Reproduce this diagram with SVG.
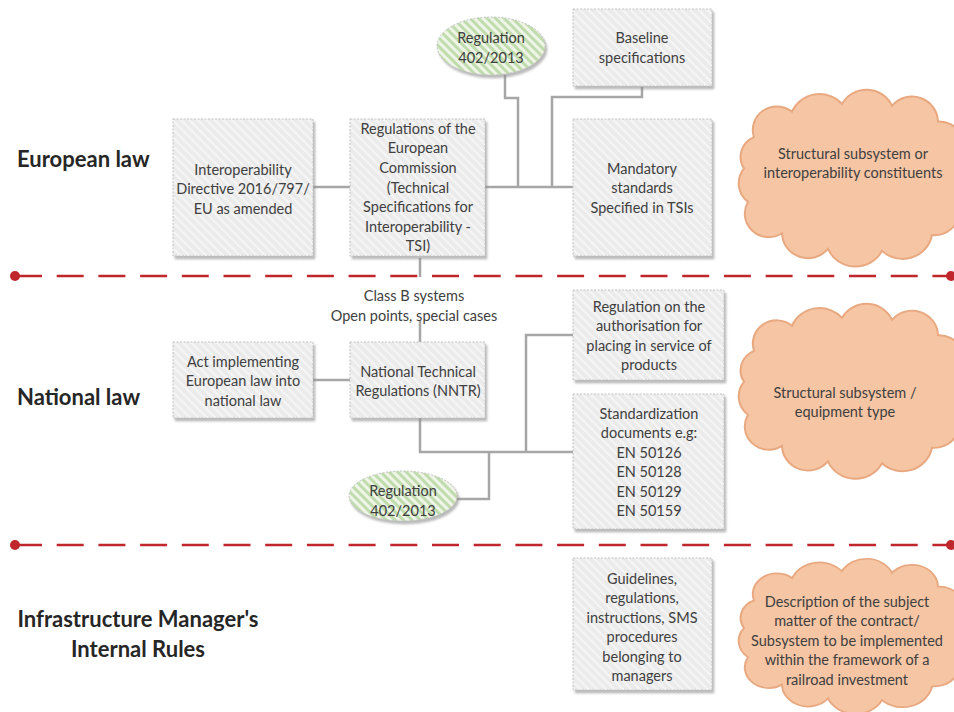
<svg xmlns="http://www.w3.org/2000/svg" width="954" height="712" viewBox="0 0 954 712">
<defs>
<pattern id="hg" width="6" height="6" patternUnits="userSpaceOnUse" patternTransform="rotate(-45)"><rect width="6" height="6" fill="#ebebeb"/><rect width="2" height="6" fill="#f5f5f5"/></pattern>
<pattern id="gg" width="6" height="6" patternUnits="userSpaceOnUse" patternTransform="rotate(-45)"><rect width="6" height="6" fill="#eef5e8"/><rect width="3" height="6" fill="#c0dcac"/></pattern>
<filter id="sh" x="-10%" y="-10%" width="130%" height="130%"><feDropShadow dx="2" dy="3" stdDeviation="1" flood-color="#8c8c8c" flood-opacity="0.6"/></filter>
<filter id="cs" x="-5%" y="-5%" width="110%" height="110%"><feGaussianBlur stdDeviation="0.6"/></filter>
<path id="cloud" d="M12,40 A24,24 0 0 1 50,14 A30,30 0 0 1 100,6 A28,28 0 0 1 150,8 A26,26 0 0 1 196,24 A24,24 0 0 1 218,60 A24,24 0 0 1 216,104 A26,26 0 0 1 190,140 A30,30 0 0 1 140,156 A30,30 0 0 1 86,154 A26,26 0 0 1 40,138 A24,24 0 0 1 6,106 A24,24 0 0 1 2,72 A22,22 0 0 1 12,40 Z"/>
</defs>
<style>
.box{fill:url(#hg);stroke:#c2c2c2;stroke-width:1;stroke-dasharray:2 1.5;filter:url(#sh)}
.ell{fill:url(#gg);stroke:#c2c2c2;stroke-width:1;stroke-dasharray:2 1.5;filter:url(#sh)}
.cl{fill:#f6c5a4;stroke:#e8a880;stroke-width:2;filter:url(#cs)}
.t{font-family:Lato,"Open Sans","Liberation Sans",sans-serif;font-size:14.5px;fill:#404040;text-anchor:middle}
.h{font-family:Lato,"Open Sans","Liberation Sans",sans-serif;font-size:22px;font-weight:bold;fill:#262626}
.c{fill:none;stroke:#a6a6a6;stroke-width:2.5}
.rl{stroke:#c0272d;stroke-width:2.5;stroke-dasharray:27 14.7}
.rd{fill:#c0272d}
</style>
<rect width="954" height="712" fill="#ffffff"/>

<g id="separators">
<line class="rl" x1="15" y1="276" x2="952" y2="276"/>
<circle class="rd" cx="15" cy="276" r="5"/><circle class="rd" cx="951" cy="276" r="5"/>
<line class="rl" x1="15" y1="545" x2="952" y2="545"/>
<circle class="rd" cx="15" cy="545" r="5"/><circle class="rd" cx="951" cy="545" r="5"/>
</g>

<g id="headings">
<text class="h" x="17" y="167">European law</text>
<text class="h" x="17" y="405">National law</text>
<text class="h" x="138" y="627" text-anchor="middle">Infrastructure Manager's</text>
<text class="h" x="138" y="657" text-anchor="middle">Internal Rules</text>
</g>

<g id="connectors">
<path class="c" d="M313,187 H350"/>
<path class="c" d="M485,187 H573"/>
<path class="c" d="M505,75 V98 H518 V187"/>
<path class="c" d="M642,87 V97 H552 V187"/>
<path class="c" d="M420,258 V277"/>
<path class="c" d="M420,320 V342"/>
<path class="c" d="M313,380 H350"/>
<path class="c" d="M420,418 V452 H573"/>
<path class="c" d="M526,452 V335 H573"/>
<path class="c" d="M489,452 V499 H457"/>
</g>

<g id="n-interop">
<rect class="box" x="173" y="119" width="140" height="137"/>
<text class="t" x="243" y="174.5">Interoperability</text>
<text class="t" x="243" y="194">Directive 2016/797/</text>
<text class="t" x="243" y="213.5">EU as amended</text>
</g>
<g id="n-regec">
<rect class="box" x="350" y="119" width="135" height="137"/>
<text class="t" x="418" y="133.5">Regulations of the</text>
<text class="t" x="418" y="153">European</text>
<text class="t" x="418" y="172.5">Commission</text>
<text class="t" x="418" y="192.5">(Technical</text>
<text class="t" x="418" y="212">Specifications for</text>
<text class="t" x="418" y="231.5">Interoperability -</text>
<text class="t" x="418" y="251">TSI)</text>
</g>
<g id="n-reg1">
<ellipse class="ell" cx="491" cy="46" rx="54" ry="29"/>
<text class="t" x="491" y="43">Regulation</text>
<text class="t" x="491" y="62.5">402/2013</text>
</g>
<g id="n-baseline">
<rect class="box" x="573" y="9" width="139" height="77"/>
<text class="t" x="642" y="43">Baseline</text>
<text class="t" x="642" y="62.5">specifications</text>
</g>
<g id="n-mandatory">
<rect class="box" x="573" y="119" width="139" height="137"/>
<text class="t" x="642" y="173.5">Mandatory</text>
<text class="t" x="642" y="193">standards</text>
<text class="t" x="642" y="212.5">Specified in TSIs</text>
</g>
<g id="n-cloud1">
<use href="#cloud" class="cl" transform="translate(742,98) scale(1,0.98)"/>
<text class="t" x="853" y="158.5">Structural subsystem or</text>
<text class="t" x="853" y="178">interoperability constituents</text>
</g>

<g id="n-classb">
<text class="t" x="414" y="301">Class B systems</text>
<text class="t" x="414" y="320.5">Open points, special cases</text>
</g>
<g id="n-act">
<rect class="box" x="173" y="342" width="140" height="76"/>
<text class="t" x="243" y="366.5">Act implementing</text>
<text class="t" x="243" y="386">European law into</text>
<text class="t" x="243" y="405.5">national law</text>
</g>
<g id="n-nntr">
<rect class="box" x="350" y="342" width="135" height="76"/>
<text class="t" x="418" y="376.5">National Technical</text>
<text class="t" x="418" y="396">Regulations (NNTR)</text>
</g>
<g id="n-auth">
<rect class="box" x="573" y="290" width="151" height="90"/>
<text class="t" x="649" y="311.5">Regulation on the</text>
<text class="t" x="649" y="331">authorisation for</text>
<text class="t" x="649" y="350.5">placing in service of</text>
<text class="t" x="649" y="370">products</text>
</g>
<g id="n-std">
<rect class="box" x="573" y="394" width="151" height="135"/>
<text class="t" x="649" y="418.5">Standardization</text>
<text class="t" x="649" y="438">documents e.g:</text>
<text class="t" x="649" y="457.5">EN 50126</text>
<text class="t" x="649" y="477">EN 50128</text>
<text class="t" x="649" y="496.5">EN 50129</text>
<text class="t" x="649" y="516">EN 50159</text>
</g>
<g id="n-reg2">
<ellipse class="ell" cx="403" cy="496" rx="54" ry="25"/>
<text class="t" x="403" y="496">Regulation</text>
<text class="t" x="403" y="515.5">402/2013</text>
</g>
<g id="n-cloud2">
<use href="#cloud" class="cl" transform="translate(742,312) scale(1,0.97)"/>
<text class="t" x="845" y="397.5">Structural subsystem /</text>
<text class="t" x="845" y="416.5">equipment type</text>
</g>

<g id="n-guidelines">
<rect class="box" x="573" y="558" width="139" height="132"/>
<text class="t" x="642" y="583.5">Guidelines,</text>
<text class="t" x="642" y="603">regulations,</text>
<text class="t" x="642" y="622.5">instructions, SMS</text>
<text class="t" x="642" y="642">procedures</text>
<text class="t" x="642" y="661.5">belonging to</text>
<text class="t" x="642" y="681">managers</text>
</g>
<g id="n-cloud3">
<use href="#cloud" class="cl" transform="translate(742,566) scale(1,0.86)"/>
<text class="t" x="847" y="606.5">Description of the subject</text>
<text class="t" x="847" y="626">matter of the contract/</text>
<text class="t" x="847" y="645.5">Subsystem to be implemented</text>
<text class="t" x="847" y="665">within the framework of a</text>
<text class="t" x="847" y="684.5">railroad investment</text>
</g>
</svg>
